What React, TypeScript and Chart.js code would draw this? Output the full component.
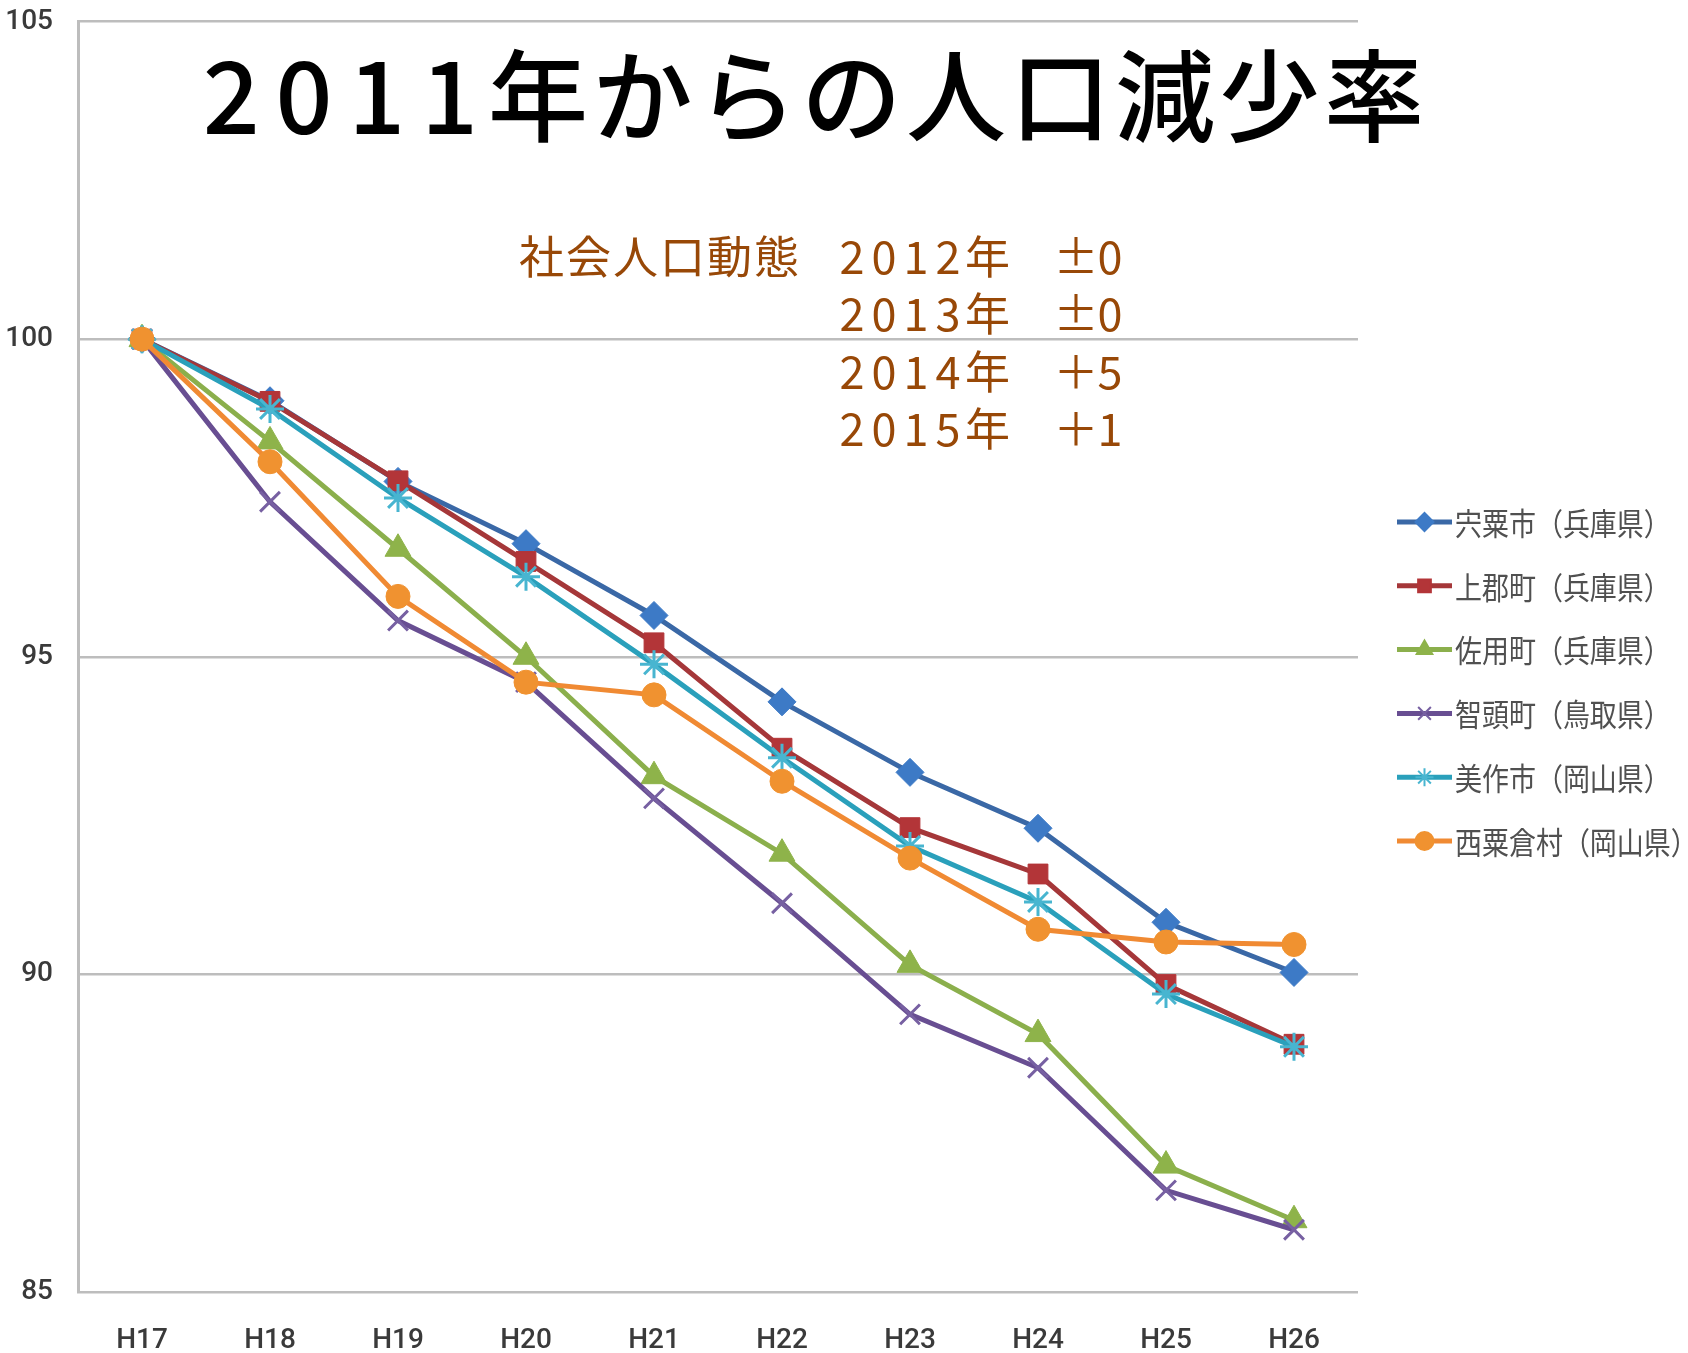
import React, { useEffect, useRef } from 'react';
import { Chart, registerables } from 'chart.js';
import { drawPoint } from 'chart.js/helpers';

Chart.register(...registerables);

// ---- data ----
const categories = ['H17', 'H18', 'H19', 'H20', 'H21', 'H22', 'H23', 'H24', 'H25', 'H26'];
const seriesNames = [
  '宍粟市（兵庫県）',
  '上郡町（兵庫県）',
  '佐用町（兵庫県）',
  '智頭町（鳥取県）',
  '美作市（岡山県）',
  '西粟倉村（岡山県）',
];
const shisoValues = [100, 99.03, 97.76, 96.78, 95.65, 94.29, 93.18, 92.3, 90.82, 90.03];
const kamigoriValues = [100, 99.02, 97.77, 96.5, 95.22, 93.56, 92.31, 91.58, 89.84, 88.9];
const sayoValues = [100, 98.39, 96.7, 95.0, 93.12, 91.9, 90.15, 89.06, 86.99, 86.13];
const chizuValues = [100, 97.44, 95.57, 94.6, 92.77, 91.12, 89.37, 88.53, 86.6, 85.98];
const mimasakaValues = [100, 98.9, 97.5, 96.26, 94.88, 93.41, 92.02, 91.14, 89.69, 88.86];
const nishiawakuraValues = [100, 98.07, 95.95, 94.6, 94.4, 93.04, 91.83, 90.71, 90.51, 90.47];
const yMin = 85;
const yMax = 105;
const yStep = 5;

const titleText = '2011年からの人口減少率';
const noteHeading = '社会人口動態';
const noteLines = ['2012年　±0', '2013年　±0', '2014年　＋5', '2015年　＋1'];

// ---- styles ----
const lineColors = ['#3A68A6', '#A53739', '#8BAF4C', '#684E92', '#2AA0BB', '#F08A33'];
const pointColors = ['#3D7AC6', '#B33538', '#8EB34A', '#7760A2', '#48B5D0', '#F09230'];
const pointStyles = ['rectRot', 'rect', 'triangle', 'crossRot', 'star', 'circle'];
const pointRadii = [14, 14, 15, 14, 14, 12];
const seriesValues = [shisoValues, kamigoriValues, sayoValues, chizuValues, mimasakaValues, nishiawakuraValues];

const tickFont = "Roboto, 'Liberation Sans', sans-serif";
const jpFont = "'Noto Sans CJK JP', 'Noto Sans', sans-serif";

function drawCells(ctx: CanvasRenderingContext2D, text: string, x: number, y: number, digitW: number, otherW: number, signW: number) {
  ctx.textAlign = 'center';
  for (const ch of Array.from(text)) {
    const w = /[0-9]/.test(ch) ? digitW : ch === '±' || ch === '＋' ? signW : otherW;
    ctx.fillText(ch, x + w / 2, y);
    x += w;
  }
}

const overlayPlugin = {
  id: 'overlay',
  afterDraw(chart: any) {
    const ctx: CanvasRenderingContext2D = chart.ctx;
    ctx.save();
    // title
    ctx.fillStyle = '#000000';
    ctx.textBaseline = 'alphabetic';
    ctx.font = `500 100px ${jpFont}`;
    drawCells(ctx, titleText, 195, 134, 72.7, 104.5, 72.7);

    // annotation
    ctx.fillStyle = '#984807';
    ctx.font = `45px ${jpFont}`;
    drawCells(ctx, noteHeading, 518, 274, 32, 47, 36);
    noteLines.forEach((line, i) => {
      drawCells(ctx, line, 836, 274 + i * 57.3, 32, 47, 36);
    });

    // legend
    const legendX0 = 1397;
    const legendX1 = 1452;
    const legendY0 = 522;
    const legendStep = 63.8;
    seriesNames.forEach((name, i) => {
      const y = legendY0 + i * legendStep;
      ctx.strokeStyle = lineColors[i];
      ctx.lineWidth = 5;
      ctx.beginPath();
      ctx.moveTo(legendX0, y);
      ctx.lineTo(legendX1, y);
      ctx.stroke();
      ctx.fillStyle = pointColors[i];
      ctx.strokeStyle = pointColors[i];
      ctx.lineWidth = 2;
      drawPoint(ctx, { pointStyle: pointStyles[i] as any, radius: 9, rotation: 0, borderWidth: 2 }, (legendX0 + legendX1) / 2, y);
      ctx.save();
      ctx.translate(1455, y);
      ctx.scale(0.87, 1);
      ctx.fillStyle = '#505050';
      ctx.font = `31px ${jpFont}`;
      ctx.textAlign = 'left';
      ctx.textBaseline = 'middle';
      ctx.fillText(name, 0, 1);
      ctx.restore();
    });
    ctx.restore();
  },
};

export default function App() {
  const canvasRef = useRef<HTMLCanvasElement | null>(null);

  useEffect(() => {
    document.body.style.margin = '0';
    const canvas = canvasRef.current;
    if (!canvas) return;
    const datasets = seriesNames.map((name, i) => ({
      label: name,
      data: seriesValues[i],
      borderColor: lineColors[i],
      backgroundColor: pointColors[i],
      pointBackgroundColor: pointColors[i],
      pointBorderColor: pointColors[i],
      pointBorderWidth: i === 3 || i === 4 ? 3 : 1,
      pointStyle: pointStyles[i] as any,
      pointRadius: pointRadii[i],
      borderWidth: 5,
      tension: 0,
      fill: false,
      order: seriesNames.length - i,
    }));
    const chart = new Chart(canvas, {
      type: 'line',
      data: { labels: categories, datasets },
      options: {
        responsive: false,
        animation: false,
        devicePixelRatio: 1,
        layout: { autoPadding: false, padding: { top: 21.5, right: 330, bottom: 0, left: 0 } },
        plugins: { legend: { display: false }, tooltip: { enabled: false } },
        scales: {
          x: {
            offset: true,
            grid: { display: false, drawTicks: false },
            border: { display: false },
            ticks: { padding: 32, color: '#3A3A3A', font: { family: tickFont, size: 28, weight: '500' } },
            afterFit: (s: any) => {
              s.height = 61;
              s.paddingLeft = 0;
              s.paddingRight = 0;
            },
          },
          y: {
            min: yMin,
            max: yMax,
            ticks: { stepSize: yStep, padding: 25, color: '#3A3A3A', font: { family: tickFont, size: 28, weight: '500' } },
            grid: { color: '#BDBDBD', lineWidth: 2.5, drawTicks: false },
            border: { display: true, color: '#BDBDBD', width: 3 },
            afterFit: (s: any) => {
              s.width = 78;
              s.paddingTop = 0;
              s.paddingBottom = 0;
            },
          },
        },
      },
      plugins: [overlayPlugin],
    });
    return () => chart.destroy();
  }, []);

  return (
    <div style={{ position: 'relative', width: 1688, height: 1353, background: '#ffffff' }}>
      <canvas ref={canvasRef} width={1688} height={1353} style={{ display: 'block' }} />
    </div>
  );
}
